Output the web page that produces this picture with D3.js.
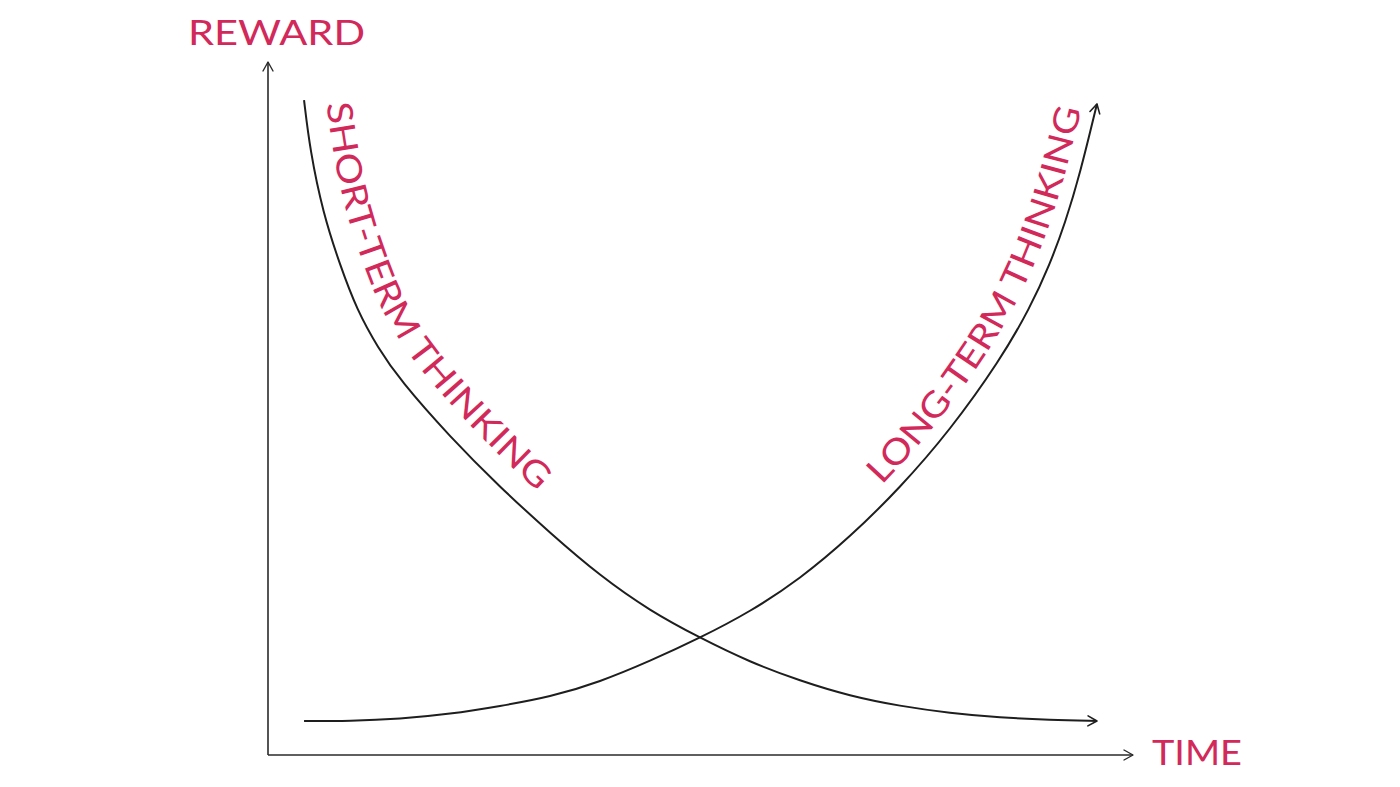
<!DOCTYPE html>
<html><head><meta charset="utf-8">
<script src="https://cdn.jsdelivr.net/npm/d3@7"></script>
<style>html,body{margin:0;background:#fff;overflow:hidden}</style>
</head><body>
<svg id="chart" width="1400" height="787"></svg>
<script>
// ---- data ----
const axisTitles = ["TIME", "REWARD"];
const seriesNames = ["SHORT-TERM THINKING", "LONG-TERM THINKING"];
const shortTime = [1.000, 1.165, 1.526, 1.998, 2.469, 3.052, 3.662, 5.050, 6.437, 7.824, 9.212, 10.599, 11.986, 13.373, 14.761, 16.148, 17.535, 18.923, 20.310, 21.697, 23.000];
const shortReward = [18.90, 17.46, 15.64, 14.14, 12.84, 11.75, 10.82, 9.18, 7.73, 6.41, 5.17, 4.16, 3.38, 2.68, 2.14, 1.70, 1.41, 1.21, 1.08, 1.01, 0.98];
const longTime = [1.000, 2.275, 3.662, 5.050, 6.437, 7.824, 9.212, 10.599, 11.986, 13.373, 14.761, 16.148, 17.535, 18.923, 20.310, 21.142, 21.697, 22.113, 22.530, 23.000];
const longReward = [0.98, 0.98, 1.04, 1.18, 1.41, 1.67, 2.11, 2.71, 3.38, 4.13, 5.08, 6.29, 7.71, 9.37, 11.39, 12.90, 14.17, 15.34, 16.77, 18.79];
const timeDomain = [0, 24];
const rewardDomain = [0, 20];

// ---- layout ----
const plot = {left: 268, right: 1133, top: 62, bottom: 755};
const ink = "#1e1e1e", pink = "#d2295b";
const font = "Lato, 'Open Sans', sans-serif";

const svg = d3.select("#chart");
const x = d3.scaleLinear().domain(timeDomain).range([plot.left, plot.right]);
const y = d3.scaleLinear().domain(rewardDomain).range([plot.bottom, plot.top]);

const defs = svg.append("defs");
function marker(id, size, color, sw) {
  defs.append("marker").attr("id", id)
    .attr("viewBox", "-12 -7 14 14").attr("markerUnits", "userSpaceOnUse")
    .attr("markerWidth", size).attr("markerHeight", size)
    .attr("refX", 0).attr("refY", 0).attr("orient", "auto")
    .append("path").attr("d", "M-9,-5 L0,0 L-9,5")
    .attr("fill", "none").attr("stroke", color).attr("stroke-width", sw)
    .attr("stroke-linecap", "round").attr("stroke-linejoin", "round");
}
marker("arrAxis", 14, "#2a2a2a", 1.4);
marker("arrCurve", 14, ink, 1.6);

// axes
const axisLine = d3.line();
svg.append("path")
  .attr("d", axisLine([[x(0), y(0)], [x(0), y(rewardDomain[1])]]))
  .attr("stroke", "#2a2a2a").attr("stroke-width", 1.6).attr("fill", "none")
  .attr("marker-end", "url(#arrAxis)");
svg.append("path")
  .attr("d", axisLine([[x(0), y(0)], [x(timeDomain[1]), y(0)]]))
  .attr("stroke", "#2a2a2a").attr("stroke-width", 1.6).attr("fill", "none")
  .attr("marker-end", "url(#arrAxis)");

// axis titles
svg.append("text").text(axisTitles[1])
  .attr("x", 188).attr("y", 45)
  .attr("textLength", 177).attr("lengthAdjust", "spacingAndGlyphs")
  .attr("font-family", font).attr("font-size", 35).attr("fill", pink);
svg.append("text").text(axisTitles[0])
  .attr("x", 1152).attr("y", 765)
  .attr("textLength", 90).attr("lengthAdjust", "spacingAndGlyphs")
  .attr("font-family", font).attr("font-size", 35).attr("fill", pink);

// curves
const line = d3.line().x(d => x(d[0])).y(d => y(d[1])).curve(d3.curveBasis);
const shortData = shortTime.map((t, i) => [t, shortReward[i]]);
const longData = longTime.map((t, i) => [t, longReward[i]]);

const shortPath = svg.append("path").attr("d", line(shortData))
  .attr("fill", "none").attr("stroke", ink).attr("stroke-width", 2)
  .attr("marker-end", "url(#arrCurve)");
const longPath = svg.append("path").attr("d", line(longData))
  .attr("fill", "none").attr("stroke", ink).attr("stroke-width", 2)
  .attr("marker-end", "url(#arrCurve)");

// offset path for labels following curves
function offsetPath(node, d) {
  const L = node.getTotalLength();
  const pts = [];
  for (let s = 0; s <= L; s += 3) {
    const a = node.getPointAtLength(Math.max(0, s - 4));
    const b = node.getPointAtLength(Math.min(L, s + 4));
    const p = node.getPointAtLength(s);
    let tx = b.x - a.x, ty = b.y - a.y;
    const n = Math.hypot(tx, ty) || 1;
    tx /= n; ty /= n;
    pts.push([p.x + d * ty, p.y - d * tx]);
  }
  return d3.line().curve(d3.curveBasis)(pts);
}

defs.append("path").attr("id", "shortLabelPath").attr("d", offsetPath(shortPath.node(), 22));
defs.append("path").attr("id", "longLabelPath").attr("d", offsetPath(longPath.node(), 14));

svg.append("text")
  .attr("font-family", font).attr("font-size", 35).attr("fill", pink)
  .append("textPath").attr("href", "#shortLabelPath")
  .attr("startOffset", 6)
  .attr("textLength", 455).attr("lengthAdjust", "spacingAndGlyphs")
  .text(seriesNames[0]);

const longLen = document.getElementById("longLabelPath").getTotalLength();
svg.append("text")
  .attr("font-family", font).attr("font-size", 35).attr("fill", pink)
  .append("textPath").attr("href", "#longLabelPath")
  .attr("startOffset", longLen - 6 - 432)
  .attr("textLength", 432).attr("lengthAdjust", "spacingAndGlyphs")
  .text(seriesNames[1]);
</script>
</body></html>
